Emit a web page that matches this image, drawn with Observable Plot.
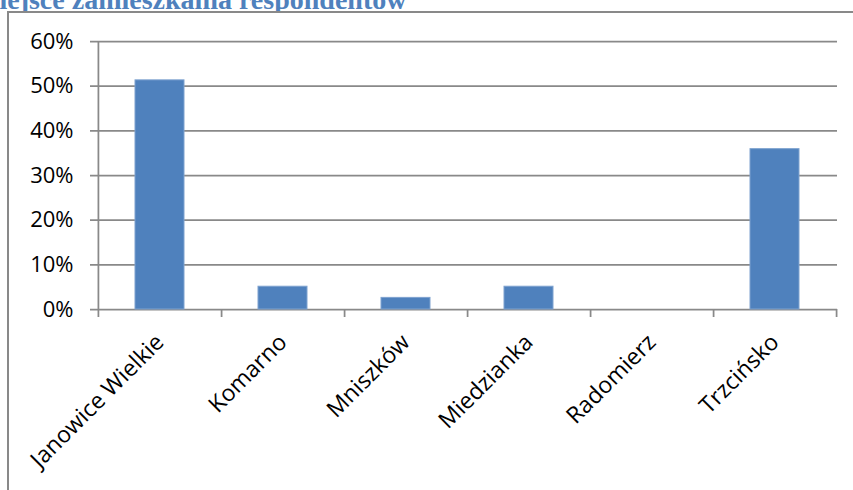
<!DOCTYPE html>
<html><head><meta charset="utf-8">
<script src="https://cdn.jsdelivr.net/npm/d3@7"></script>
<script src="https://cdn.jsdelivr.net/npm/@observablehq/plot@0.6"></script>
<style>
body{margin:0;background:#fff;}
#wrap{position:relative;width:853px;height:490px;overflow:hidden;background:#fff;}
#title{position:absolute;left:-27px;top:-16px;line-height:28px;font:bold 28px "Liberation Serif",serif;color:#4F81BD;white-space:nowrap;}
#frame{position:absolute;left:7px;top:11px;width:900px;height:600px;border:2px solid #898989;background:#fff;}
#chart{position:absolute;left:0;top:0;}
</style></head><body>
<div id="wrap"><div id="title">Miejsce zamieszkania respondentów</div><div id="frame"></div><div id="chart"></div></div>
<script>
const categories = ["Janowice Wielkie","Komarno","Mniszków","Miedzianka","Radomierz","Trzcińsko"];
const values = [51.3, 5.1, 2.6, 5.1, 0, 35.9];
const yTicks = [0,10,20,30,40,50,60];

const W=853,H=490,mL=98,mR=16,mT=41,mB=181;
const step=(W-mL-mR)/categories.length;
const data=categories.map((c,i)=>({c,v:values[i]}));
const grid="#898989";
const chart=Plot.plot({
  width:W,height:H,marginLeft:mL,marginRight:mR,marginTop:mT,marginBottom:mB,
  style:{fontFamily:'"Open Sans", sans-serif',fontSize:"22px",color:"#000",background:"transparent",overflow:"visible"},
  x:{domain:categories,paddingInner:0.6,paddingOuter:0.3,label:null},
  y:{domain:[0,60],label:null},
  marks:[
    Plot.ruleY(yTicks,{y:d=>d,stroke:grid,strokeWidth:1.75,insetLeft:-8}),
    Plot.barY(data,{x:"c",y:"v",fill:"#4F81BD",stroke:"#7ea2cf",strokeWidth:1}),
    Plot.ruleX([categories[0]],{x:d=>d,dx:-step/2,stroke:grid,strokeWidth:1.75,insetBottom:-8}),
    Plot.ruleX(categories,{x:d=>d,dx:step/2,stroke:grid,strokeWidth:1.75,insetTop:H-mT-mB,insetBottom:-8}),
    Plot.axisY({ticks:yTicks,tickSize:0,tickPadding:25,tickFormat:d=>d+"%"}),
    Plot.axisX({tickSize:0,tickRotate:-45,tickPadding:29,fontSize:23})
  ]
});
document.getElementById("chart").appendChild(chart);
</script>
</body></html>
